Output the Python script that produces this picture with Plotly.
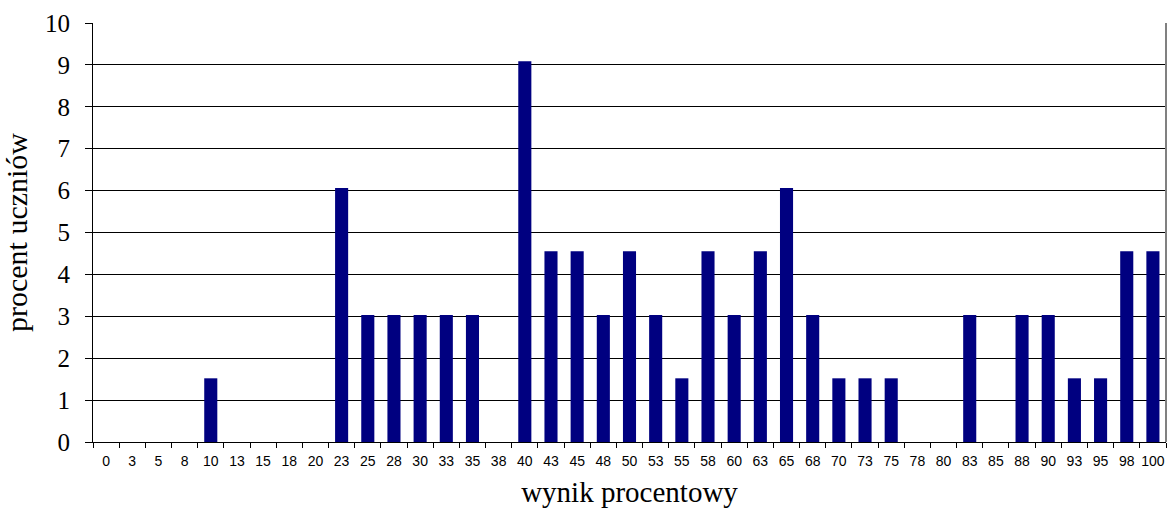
import plotly.graph_objects as go

wynik = ['0', '3', '5', '8', '10', '13', '15', '18', '20', '23', '25', '28', '30', '33', '35',
         '38', '40', '43', '45', '48', '50', '53', '55', '58', '60', '63', '65', '68', '70',
         '73', '75', '78', '80', '83', '85', '88', '90', '93', '95', '98', '100']

procent = [0, 0, 0, 0, 1.52, 0, 0, 0, 0, 6.06, 3.03, 3.03, 3.03, 3.03, 3.03,
           0, 9.09, 4.55, 4.55, 3.03, 4.55, 3.03, 1.52, 4.55, 3.03, 4.55, 6.06, 3.03, 1.52,
           1.52, 1.52, 0, 0, 3.03, 0, 3.03, 3.03, 1.52, 1.52, 4.55, 4.55]

y_ticks = list(range(0, 11))

fig = go.Figure(go.Bar(
    x=wynik,
    y=procent,
    marker=dict(color='#000080', line=dict(width=0)),
))

fig.update_layout(
    width=1168,
    height=508,
    margin=dict(l=93, r=2, t=23, b=66),
    paper_bgcolor='white',
    plot_bgcolor='white',
    bargap=0.5,
    showlegend=False,
    font=dict(family='Liberation Serif, Times New Roman, serif', color='black'),
    xaxis=dict(
        title=dict(text='wynik procentowy', font=dict(size=29), standoff=17),
        type='category',
        automargin=False,
        tickangle=0,
        tickfont=dict(family='Liberation Sans, Arial, sans-serif', size=14, color='black'),
        ticks='outside',
        tickson='boundaries',
        ticklen=5,
        ticklabelstandoff=6,
        tickcolor='black',
        showline=True,
        linecolor='black',
        linewidth=1,
        mirror=False,
        showgrid=False,
    ),
    yaxis=dict(
        title=dict(text='procent uczniów', font=dict(size=30), standoff=8),
        range=[0, 10],
        automargin=False,
        tickvals=y_ticks,
        tickfont=dict(size=25, color='black'),
        ticks='outside',
        ticklen=7,
        ticklabelstandoff=10,
        tickcolor='black',
        showline=True,
        linecolor='black',
        linewidth=1,
        showgrid=True,
        gridcolor='black',
        gridwidth=1,
        zeroline=False,
    ),
)

fig.add_shape(type='line', xref='paper', yref='paper', x0=1, x1=1, y0=0, y1=1,
              line=dict(color='#808080', width=2))

# bez marginesu body, zeby wykres miescil sie w oknie
fig.write_html("out.html", config={'displayModeBar': False},
               post_script="document.body.style.margin='0';document.body.style.overflow='hidden';")
